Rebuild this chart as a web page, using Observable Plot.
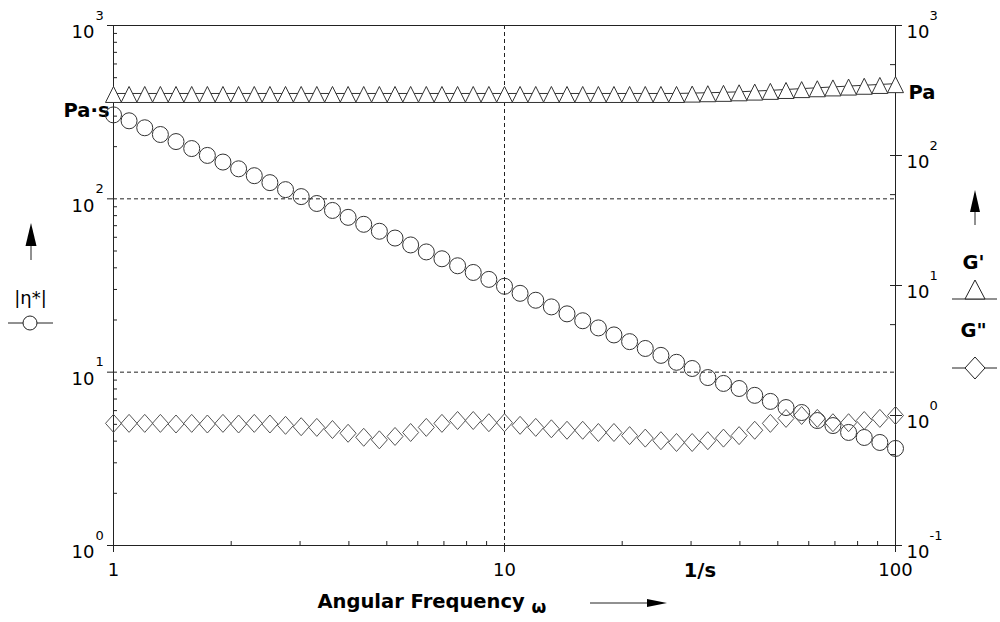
<!DOCTYPE html>
<html><head><meta charset="utf-8">
<script src="https://cdn.jsdelivr.net/npm/d3@7"></script>
<script src="https://cdn.jsdelivr.net/npm/@observablehq/plot@0.6"></script>
<style>
body{margin:0;background:#fff;}
#chart{position:relative;width:1000px;height:622px;}
#chart svg{position:absolute;left:0;top:0;}
</style></head><body><div id="chart"></div>
<script>
// ---- data ----
const freq = [1, 1.096, 1.202, 1.318, 1.445, 1.585, 1.738, 1.905, 2.089, 2.291, 2.512, 2.754, 3.020, 3.311, 3.631, 3.981, 4.365, 4.786, 5.248, 5.754, 6.310, 6.918, 7.586, 8.318, 9.120, 10, 10.96, 12.02, 13.18, 14.45, 15.85, 17.38, 19.05, 20.89, 22.91, 25.12, 27.54, 30.20, 33.11, 36.31, 39.81, 43.65, 47.86, 52.48, 57.54, 63.10, 69.18, 75.86, 83.18, 91.20, 100];
const eta = [305, 282, 257, 235, 214, 195, 178, 163, 149, 136, 124, 113, 103, 94, 85.7, 78.2, 71.3, 65.0, 59.4, 54.2, 49.4, 45.1, 41.1, 37.6, 34.3, 31.3, 28.5, 26.0, 23.8, 21.7, 19.8, 18.0, 16.4, 15.0, 13.7, 12.5, 11.4, 10.5, 9.31, 8.61, 8.05, 7.35, 6.78, 6.25, 5.85, 5.26, 4.92, 4.49, 4.20, 3.93, 3.63];
const gStorage = [300, 300, 300, 300, 300, 300, 300, 300, 300, 300, 300, 300, 300, 300, 300, 300, 300, 300, 300, 300, 300, 300, 300, 300, 300, 300, 300, 300, 300, 300, 300, 300, 300, 300, 300, 300, 300, 302, 304, 306, 309, 313, 317, 322, 327, 332, 337, 342, 347, 352, 357];
const gLoss = [0.87, 0.87, 0.87, 0.87, 0.86, 0.87, 0.86, 0.87, 0.86, 0.87, 0.86, 0.84, 0.82, 0.81, 0.78, 0.73, 0.68, 0.65, 0.69, 0.74, 0.81, 0.87, 0.915, 0.915, 0.88, 0.88, 0.84, 0.81, 0.79, 0.77, 0.77, 0.74, 0.74, 0.70, 0.67, 0.64, 0.62, 0.62, 0.64, 0.67, 0.70, 0.77, 0.87, 0.95, 1.0, 0.95, 0.88, 0.88, 0.915, 0.95, 1.0];

const leftMajor = [1, 10, 100, 1000];
const leftExp = ["0", "1", "2", "3"];
const leftMinor = [2,3,4,5,6,7,8,9,20,30,40,50,60,70,80,90,200,300,400,500,600,700,800,900];
const rightMajor = [0.1, 1, 10, 100, 1000];
const rightExp = ["-1", "0", "1", "2", "3"];
const rightMinor = [0.5, 5, 50, 500];
const xMajor = [1, 10, 100];
const xLabels = ["1", "10", "100"];
const xMinor = [2,3,4,5,6,7,8,9,20,30,40,50,60,70,80,90];
const gridEta = [10, 100];
const gridFreq = [10];
const unitPos = 31.6;

const rows = freq.map((f, i) => ({f, eta: eta[i], g1: gStorage[i], g2: gLoss[i]}));

// ---- layout ----
const W = 1000, H = 622, ML = 113, MR = 105, MT = 25, MB = 77;
const FW = W - ML - MR, FH = H - MT - MB;
const INK = "#222";
const font = "DejaVu Sans, Verdana, sans-serif";

const triSym = {draw(c) { c.moveTo(0, -7); c.lineTo(8, 9); c.lineTo(-8, 9); c.closePath(); }};
const diaSym = {draw(c) { c.moveTo(0, -9); c.lineTo(8, 0); c.lineTo(0, 9); c.lineTo(-8, 0); c.closePath(); }};

const common = {
  width: W, height: H, marginLeft: ML, marginRight: MR, marginTop: MT, marginBottom: MB,
  style: {background: "transparent", fontFamily: font, color: INK}
};

const p1 = Plot.plot({
  ...common,
  x: {type: "log", domain: [1, 100], axis: null},
  y: {type: "log", domain: [1, 1000], axis: null},
  marks: [
    Plot.ruleY(gridEta, {y: d => d, stroke: INK, strokeDasharray: "4,3"}),
    Plot.ruleX(gridFreq, {x: d => d, stroke: INK, strokeDasharray: "4,3"}),
    Plot.frame({stroke: INK}),
    Plot.tickY(leftMinor, {y: d => d, insetRight: FW - 4, stroke: INK}),
    Plot.tickY(leftMajor, {y: d => d, insetLeft: -6, insetRight: FW, stroke: INK}),
    Plot.tickX(xMinor, {x: d => d, insetTop: FH - 4, stroke: INK}),
    Plot.tickX(xMajor, {x: d => d, insetTop: FH, insetBottom: -7, stroke: INK}),
    Plot.text(leftMajor, {y: d => d, frameAnchor: "left", text: () => "10", textAnchor: "end", lineAnchor: "top", dx: -19, dy: 0, fontSize: 18, fill: "#000"}),
    Plot.text(leftMajor, {y: d => d, frameAnchor: "left", text: (d, i) => leftExp[i], textAnchor: "start", lineAnchor: "top", dx: -18, dy: -15, fontSize: 13, fill: "#000"}),
    Plot.text(xMajor, {x: d => d, frameAnchor: "bottom", text: (d, i) => xLabels[i], lineAnchor: "top", dy: 18, fontSize: 18, fill: "#000"}),
    Plot.text(["1/s"], {x: () => unitPos, frameAnchor: "bottom", text: d => d, lineAnchor: "top", dy: 18, fontSize: 19.5, fontWeight: "bold", fill: "#000"}),
    Plot.text(["Angular Frequency"], {frameAnchor: "bottom-left", text: d => d, textAnchor: "start", lineAnchor: "top", dx: 204, dy: 49, fontSize: 19.5, fontWeight: "bold", fill: "#000"}),
    Plot.text(["ω"], {frameAnchor: "bottom-left", text: d => d, textAnchor: "start", lineAnchor: "top", dx: 418, dy: 55, fontSize: 17, fontWeight: "bold", fill: "#000"}),
    Plot.text(["Pa·s"], {frameAnchor: "top-left", text: d => d, textAnchor: "end", lineAnchor: "top", dx: -4, dy: 78, fontSize: 19.5, fontWeight: "bold", fill: "#000"}),
    Plot.text(["|η*|"], {frameAnchor: "top-left", text: d => d, textAnchor: "middle", lineAnchor: "top", dx: -83, dy: 266, fontSize: 18, fill: "#000"}),
    Plot.dot(rows, {x: "f", y: "eta", r: 8, stroke: "#333", fill: "none", strokeWidth: 1})
  ]
});

const p2 = Plot.plot({
  ...common,
  x: {type: "log", domain: [1, 100], axis: null},
  y: {type: "log", domain: [0.1, 1000], axis: null},
  marks: [
    Plot.tickY(rightMinor, {y: d => d, insetLeft: FW - 5, stroke: INK}),
    Plot.tickY(rightMajor, {y: d => d, insetLeft: FW - 5, insetRight: -7, stroke: INK}),
    Plot.text(rightMajor, {y: d => d, frameAnchor: "right", text: () => "10", textAnchor: "start", lineAnchor: "top", dx: 11, dy: 0, fontSize: 18, fill: "#000"}),
    Plot.text(rightMajor, {y: d => d, frameAnchor: "right", text: (d, i) => rightExp[i], textAnchor: "start", lineAnchor: "top", dx: 34, dy: -15, fontSize: 13, fill: "#000"}),
    Plot.text(["Pa"], {frameAnchor: "top-right", text: d => d, textAnchor: "start", lineAnchor: "top", dx: 13, dy: 60, fontSize: 19.5, fontWeight: "bold", fill: "#000"}),
    Plot.text(["G'"], {frameAnchor: "top-right", text: d => d, textAnchor: "middle", lineAnchor: "top", dx: 78, dy: 230, fontSize: 19.5, fontWeight: "bold", fill: "#000"}),
    Plot.text(["G\""], {frameAnchor: "top-right", text: d => d, textAnchor: "middle", lineAnchor: "top", dx: 78, dy: 298, fontSize: 19.5, fontWeight: "bold", fill: "#000"}),
    Plot.line(rows, {x: "f", y: "g1", stroke: "#333", strokeWidth: 1}),
    Plot.dot(rows, {x: "f", y: "g1", symbol: triSym, stroke: "#333", fill: "white", strokeWidth: 1}),
    Plot.dot(rows, {x: "f", y: "g2", symbol: diaSym, stroke: "#555", fill: "none", strokeWidth: 1})
  ]
});

const host = document.getElementById("chart");
host.append(p1, p2);

// ---- legend decorations ----
const s = d3.select(p2);
const lg = s.append("g").attr("stroke", INK).attr("fill", "none").attr("stroke-width", 1);
// left arrow
lg.append("line").attr("x1", 31).attr("x2", 31).attr("y1", 244).attr("y2", 260);
lg.append("path").attr("d", "M31,223L25.5,246L36.5,246Z").attr("fill", "#000").attr("stroke", "none");
// right arrow
lg.append("line").attr("x1", 975).attr("x2", 975).attr("y1", 210).attr("y2", 225);
lg.append("path").attr("d", "M975,190L970,212L980,212Z").attr("fill", "#000").attr("stroke", "none");
// bottom arrow
lg.append("line").attr("x1", 590).attr("x2", 650).attr("y1", 603).attr("y2", 603);
lg.append("path").attr("d", "M667,603L647,599L647,607Z").attr("fill", "#000").attr("stroke", "none");
// legend symbols
lg.append("line").attr("x1", 8).attr("x2", 53).attr("y1", 323).attr("y2", 323);
lg.append("circle").attr("cx", 30).attr("cy", 323).attr("r", 7).attr("fill", "white");
lg.append("line").attr("x1", 952).attr("x2", 997).attr("y1", 299).attr("y2", 299);
lg.append("path").attr("d", "M975,280L985,299L965,299Z").attr("fill", "white");
lg.append("line").attr("x1", 952).attr("x2", 997).attr("y1", 368).attr("y2", 368);
lg.append("path").attr("d", "M975,357L985,368L975,379L965,368Z").attr("fill", "white");
</script>
</body></html>
